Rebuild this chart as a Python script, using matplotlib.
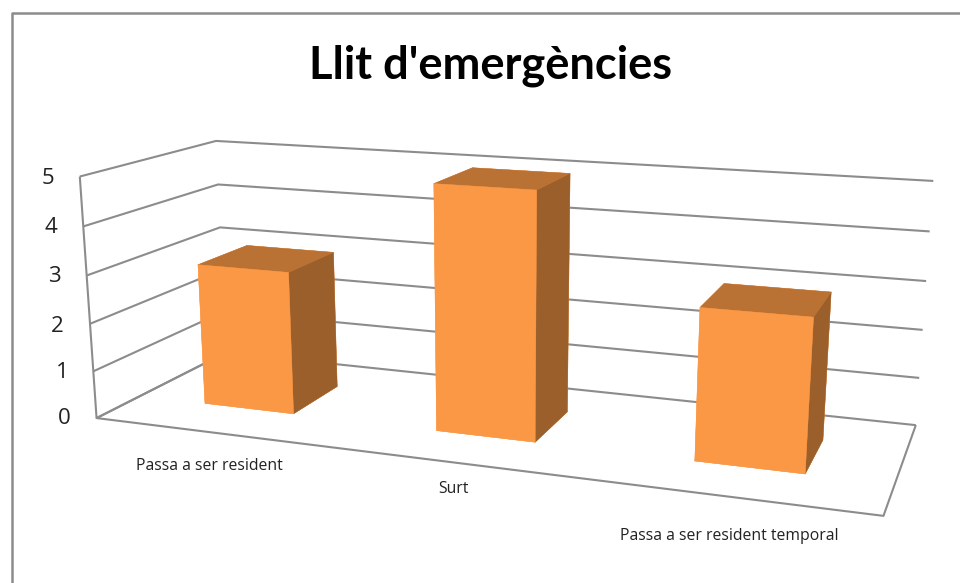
import numpy as np
import matplotlib
matplotlib.use('Agg')
import matplotlib.pyplot as plt
from matplotlib.lines import Line2D
from mpl_toolkits.mplot3d.art3d import Line3DCollection

W, H = 960, 583

title = "Llit d'emergències"
categories = ['Passa a ser resident', 'Surt', 'Passa a ser resident temporal']
values = [3, 5, 3]
value_ticks = [0, 1, 2, 3, 4, 5]

# bar footprint on the floor (category units, depth 0..1)
bar_left = [0.298, 1.298, 2.298]
bar_width = 0.395
depth_front, depth_span = 0.31, 0.39

# label places in reference pixels
tick_px = [(64, 418), (62, 373), (57, 326), (54, 276), (51, 228), (48, 178)]
cat_px = [(209, 466), (453, 489), (729, 536)]

# Excel's 3D box: world corner -> pixel, used to solve the camera
world = np.array([(0, 0, 0), (0, 0, 5), (0, 1, 5), (0, 1, 0), (3, 1, 5), (3, 1, 0), (3, 0, 0),
                  (0, 1, 3), (3, 1, 3), (0, 0, 3)], float)
pixel = np.array([(96, 418), (79, 177), (216, 141), (226, 353), (933, 181), (915.5, 425), (883.5, 516),
                  (220, 227), (926.7, 281), (88, 275)], float)


def solve_camera(world, pixel):
    rows = []
    for (x, y, z), (u, v) in zip(world, pixel):
        rows.append([x, y, z, 1, 0, 0, 0, 0, -u * x, -u * y, -u * z, -u])
        rows.append([0, 0, 0, 0, x, y, z, 1, -v * x, -v * y, -v * z, -v])
    P = np.linalg.svd(np.array(rows))[2][-1].reshape(3, 4)
    if P[2] @ [1, 0.5, 2, 1] < 0:
        P = -P
    P = P / (P[2] @ [1, 0.5, 2, 1])
    # third row gives depth, farther = larger
    return np.array([P[0], P[1], [0, 0, 0, -1], P[2]])


M = solve_camera(world, pixel)

fig = plt.figure(figsize=(W / 100, H / 100), dpi=100)
ax = fig.add_axes([0, 0, 1, 1], projection='3d', computed_zorder=False)
ax.get_proj = lambda: M
ax.apply_aspect = lambda position=None: None
ax.set_axis_off()
ax.patch.set_visible(False)

grid = '#8c8c8c'
n = len(categories)
segs = []
for v in value_ticks:
    segs.append([(0, 0, v), (0, 1, v), (n, 1, v)])
segs.append([(0, 0, 0), (0, 0, value_ticks[-1])])
segs.append([(0, 1, 0), (0, 0, 0), (n, 0, 0), (n, 1, 0)])
ax.add_collection3d(Line3DCollection(segs, colors=grid, linewidths=1.5, zorder=1), autolim=False)

# face order in bar3d: bottom, top, front, back, left, right
face_colors = ['#fb9846', '#b97134', '#fb9846', '#fb9846', '#fb9846', '#9a5f2b'] * n
bars = ax.bar3d(bar_left, [depth_front] * n, [0] * n, bar_width, depth_span, values,
                color=face_colors, edgecolor=face_colors, linewidth=0.3, shade=False)
bars.set_zorder(3)

ax.viewLim.intervalx = (0, W)
ax.viewLim.intervaly = (H, 0)

fig.text(491 / W, 1 - 66 / H, title, family='Lato', weight='bold', fontsize=32.6,
         color='black', ha='center', va='center')
for v, (x, y) in zip(value_ticks, tick_px):
    fig.text(x / W, 1 - y / H, str(v), family='Open Sans', fontsize=16, color='#222222', ha='center', va='center')
for c, (x, y) in zip(categories, cat_px):
    fig.text(x / W, 1 - y / H, c, family='Open Sans', fontsize=11.3, color='#222222', ha='center', va='center')

# chart frame, cropped on the right and bottom
fig.add_artist(Line2D([12 / W, 12 / W, 1], [0, 1 - 12.5 / H, 1 - 12.5 / H], color='#8c8c8c', lw=1.8))

fig.savefig('out.png', dpi=100)
